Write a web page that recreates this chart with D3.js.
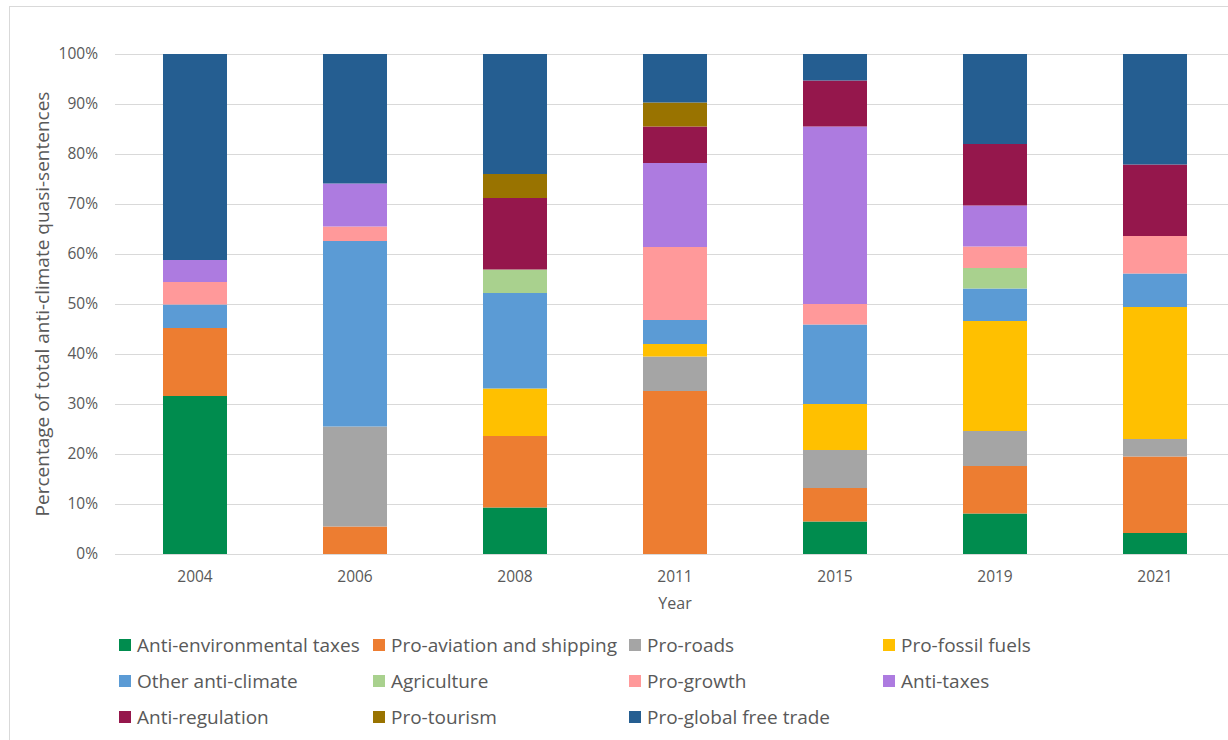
<!DOCTYPE html>
<html>
<head>
<meta charset="utf-8">
<script src="https://cdn.jsdelivr.net/npm/d3@7/dist/d3.min.js"></script>
<style>
  html, body { margin: 0; padding: 0; background: #fff; }
  svg { display: block; font-family: "Open Sans", "Noto Sans", sans-serif; }
</style>
</head>
<body>
<svg id="chart" width="1228" height="740"></svg>
<script>
// Election years (categories)
const years = ["2004", "2006", "2008", "2011", "2015", "2019", "2021"];

// Share of anti-climate quasi-sentences per category, in % (stacked bottom to top)
const antiEnvironmentalTaxes = [31.6, 0, 9.3, 0, 6.5, 8.1, 4.2];
const proAviationShipping    = [13.6, 5.5, 14.3, 32.6, 6.7, 9.5, 15.3];
const proRoads               = [0, 20.0, 0, 6.9, 7.6, 7.0, 3.5];
const proFossilFuels         = [0, 0, 9.5, 2.5, 9.2, 22.0, 26.4];
const otherAntiClimate       = [4.7, 37.1, 19.1, 4.8, 15.9, 6.5, 6.7];
const agriculture            = [0, 0, 4.7, 0, 0, 4.1, 0];
const proGrowth              = [4.5, 2.9, 0, 14.6, 4.1, 4.3, 7.5];
const antiTaxes              = [4.4, 8.6, 0, 16.8, 35.5, 8.2, 0];
const antiRegulation         = [0, 0, 14.3, 7.3, 9.2, 12.3, 14.3];
const proTourism             = [0, 0, 4.8, 4.8, 0, 0, 0];
const proGlobalFreeTrade     = [41.2, 25.9, 24.0, 9.7, 5.3, 18.0, 22.1];

const seriesNames = [
  "Anti-environmental taxes", "Pro-aviation and shipping", "Pro-roads", "Pro-fossil fuels",
  "Other anti-climate", "Agriculture", "Pro-growth", "Anti-taxes",
  "Anti-regulation", "Pro-tourism", "Pro-global free trade"
];
const seriesValues = [
  antiEnvironmentalTaxes, proAviationShipping, proRoads, proFossilFuels,
  otherAntiClimate, agriculture, proGrowth, antiTaxes,
  antiRegulation, proTourism, proGlobalFreeTrade
];
const seriesColors = [
  "#008c4e", "#ed7d31", "#a5a5a5", "#ffc000",
  "#5b9bd5", "#a9d18e", "#ff999a", "#ad7be0",
  "#95174c", "#997300", "#255e91"
];

const yTicks = [0, 10, 20, 30, 40, 50, 60, 70, 80, 90, 100];

// Row table built for d3.stack
const table = years.map((y, i) => {
  const row = { year: y };
  seriesNames.forEach((n, k) => { row[n] = seriesValues[k][i]; });
  return row;
});

const svg = d3.select("#chart");
const plot = { left: 115, top: 54, width: 1120, height: 500 };

// Outer chart frame
svg.append("rect")
  .attr("x", 9.5).attr("y", 6.5)
  .attr("width", 1240).attr("height", 760)
  .attr("fill", "none").attr("stroke", "#d9d9d9").attr("stroke-width", 1);

const x = d3.scaleBand()
  .domain(years)
  .range([plot.left, plot.left + plot.width])
  .paddingInner(0.6)
  .paddingOuter(0.3);

const y = d3.scaleLinear()
  .domain([0, 100])
  .range([plot.top + plot.height, plot.top]);

// Gridlines
svg.append("g")
  .selectAll("line")
  .data(yTicks)
  .join("line")
  .attr("x1", plot.left).attr("x2", 1228)
  .attr("y1", d => Math.round(y(d)) + 0.5)
  .attr("y2", d => Math.round(y(d)) + 0.5)
  .attr("stroke", "#d9d9d9").attr("stroke-width", 1);

// Y tick labels
svg.append("g")
  .selectAll("text")
  .data(yTicks)
  .join("text")
  .attr("x", 98)
  .attr("y", d => y(d))
  .attr("dy", "0.35em")
  .attr("text-anchor", "end")
  .attr("font-size", 15.5)
  .attr("fill", "#595959")
  .text(d => d + "%");

// Stacked bars
const stack = d3.stack().keys(seriesNames);
const layers = stack(table);

svg.append("g")
  .selectAll("g")
  .data(layers)
  .join("g")
  .attr("fill", (d, i) => seriesColors[i])
  .selectAll("rect")
  .data(d => d.filter(s => s[1] - s[0] > 0))
  .join("rect")
  .attr("x", d => x(d.data.year))
  .attr("width", x.bandwidth())
  .attr("y", d => y(d[1]))
  .attr("height", d => y(d[0]) - y(d[1]));

// X tick labels
svg.append("g")
  .selectAll("text")
  .data(years)
  .join("text")
  .attr("x", d => x(d) + x.bandwidth() / 2)
  .attr("y", 577)
  .attr("dy", "0.35em")
  .attr("text-anchor", "middle")
  .attr("font-size", 15.5)
  .attr("fill", "#595959")
  .text(d => d);

// Axis titles
svg.append("text")
  .attr("x", 675).attr("y", 603)
  .attr("dy", "0.35em")
  .attr("text-anchor", "middle")
  .attr("font-size", 16)
  .attr("fill", "#595959")
  .text("Year");

svg.append("text")
  .attr("transform", `translate(42, ${plot.top + plot.height / 2}) rotate(-90)`)
  .attr("dy", "0.35em")
  .attr("text-anchor", "middle")
  .attr("font-size", 19)
  .attr("fill", "#595959")
  .text("Percentage of total anti-climate quasi-sentences");

// Legend: 4 columns, 3 rows
const legendCols = [119, 373, 629, 883];
const legendRows = [645, 681, 717];
const legend = svg.append("g")
  .selectAll("g")
  .data(seriesNames)
  .join("g")
  .attr("transform", (d, i) => `translate(${legendCols[i % 4]}, ${legendRows[Math.floor(i / 4)]})`);

legend.append("rect")
  .attr("x", 0).attr("y", -6)
  .attr("width", 12).attr("height", 12)
  .attr("fill", (d, i) => seriesColors[i]);

legend.append("text")
  .attr("x", 18).attr("y", 0)
  .attr("dy", "0.35em")
  .attr("font-size", 19)
  .attr("fill", "#595959")
  .text(d => d);
</script>
</body>
</html>
